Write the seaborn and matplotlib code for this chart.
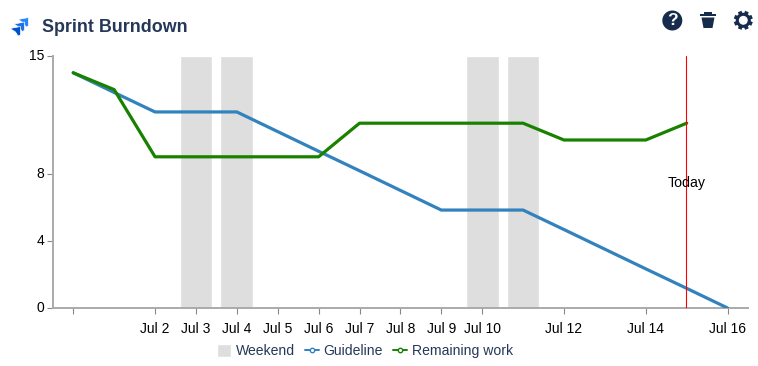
import matplotlib
matplotlib.use('Agg')
import matplotlib.pyplot as plt
from matplotlib.lines import Line2D
from matplotlib.patches import Circle, Patch, Polygon
import numpy as np
import pandas as pd
import seaborn as sns

# days since Jun 30
days = list(range(17))
guideline = [14, 12.83, 11.67, 11.67, 11.67, 10.5, 9.33, 8.17, 7, 5.83, 5.83, 5.83, 4.67, 3.5, 2.33, 1.17, 0]
remaining_days = list(range(16))
remaining = [14, 13, 9, 9, 9, 9, 9, 11, 11, 11, 11, 11, 10, 10, 10, 11]
weekend_days = [3, 4, 10, 11]
today = 15
tick_days = [0, 2, 3, 4, 5, 6, 7, 8, 9, 10, 12, 14, 16]
tick_labels = ['', 'Jul 2', 'Jul 3', 'Jul 4', 'Jul 5', 'Jul 6', 'Jul 7', 'Jul 8', 'Jul 9', 'Jul 10', 'Jul 12', 'Jul 14', 'Jul 16']
y_ticks = [0, 4, 8, 15]

NAVY = '#253858'
DARK = '#172B4D'
BLUE = '#3182bd'
GREEN = '#188200'
GREY = '#dedede'

sns.set_theme(style='white')
plt.rcParams['font.family'] = ['Liberation Sans', 'DejaVu Sans']

df = pd.concat([
    pd.DataFrame({'day': days, 'value': guideline, 'series': 'Guideline'}),
    pd.DataFrame({'day': remaining_days, 'value': remaining, 'series': 'Remaining work'}),
])

fig = plt.figure(figsize=(7.58, 3.66), dpi=100)
ax = fig.add_axes([53 / 758, 1 - 308 / 366, (748 - 53) / 758, (308 - 56) / 366])

ax.bar(weekend_days, [15] * len(weekend_days), width=0.8, color=GREY, zorder=1)
sns.lineplot(data=df, x='day', y='value', hue='series', palette={'Guideline': BLUE, 'Remaining work': GREEN},
             linewidth=2.3, ax=ax, legend=False, zorder=3)
ax.axvline(today - 0.01, color='#ff0000', linewidth=0.8, zorder=4)
ax.text(today, 7.43, 'Today', ha='center', va='center', fontsize=10.2, color='black', zorder=5)

ax.set_xlim(-0.495, 16.5)
ax.set_ylim(0, 15)
ax.set_xticks(tick_days)
ax.set_xticklabels(tick_labels)
ax.set_yticks(y_ticks)
ax.set_xlabel('')
ax.set_ylabel('')
ax.tick_params(axis='both', length=4.5, width=0.8, color='#888888', labelsize=10, labelcolor='black', pad=5.5,
               bottom=True, left=True)
ax.tick_params(axis='y', pad=2, labelsize=10)
for side in ['top', 'right']:
    ax.spines[side].set_visible(False)
for side in ['left', 'bottom']:
    ax.spines[side].set_color('#aaaaaa')
    ax.spines[side].set_linewidth(1.4)
for label in ax.get_yticklabels():
    label.set_verticalalignment('center')

handles = [
    Patch(facecolor=GREY, label='Weekend'),
    Line2D([], [], color=BLUE, marker='o', markersize=3.2, markerfacecolor='white', markeredgewidth=1, linewidth=1.4, label='Guideline'),
    Line2D([], [], color=GREEN, marker='o', markersize=3.2, markerfacecolor='white', markeredgewidth=1, linewidth=1.4, label='Remaining work'),
]
fig.legend(handles=handles, loc='center', bbox_to_anchor=(365 / 758, 1 - 351 / 366), ncol=3, frameon=False,
           fontsize=10.1, labelcolor=NAVY, handlelength=1, handleheight=1, handletextpad=0.32, columnspacing=0.72,
           borderpad=0, borderaxespad=0)

# header, drawn in pixel coordinates
top = fig.add_axes([0, 0, 1, 1], facecolor='none')
top.set_xlim(0, 758)
top.set_ylim(366, 0)
top.axis('off')
top.text(42, 27.5, 'Sprint Burndown', fontsize=12.9, fontweight='bold', color=NAVY, va='center', ha='left')

# logo chevrons, back to front
for dx, dy, c in [(0, 0, '#2684FF'), (-4, 4.5, '#1f6fe8'), (-8, 9, '#0052CC')]:
    top.add_patch(Polygon([(18 + dx, 19.5 + dy), (28.5 + dx, 17.5 + dy), (28.5 + dx, 26 + dy), (26 + dx, 27 + dy), (23.5 + dx, 23 + dy)],
                          closed=True, facecolor=c, edgecolor='white', linewidth=0.5))

# help icon
top.add_patch(Circle((672.3, 20.5), 10, facecolor=DARK, edgecolor='none'))
top.text(672.3, 20.8, '?', color='white', fontsize=12.5, fontweight='bold', ha='center', va='center')

# trash icon
top.add_patch(Polygon([(700, 13.5), (716, 13.5), (716, 16), (700, 16)], closed=True, facecolor=DARK, edgecolor='none'))
top.add_patch(Polygon([(704, 12), (712, 12), (712, 13.5), (704, 13.5)], closed=True, facecolor=DARK, edgecolor='none'))
top.add_patch(Polygon([(701.5, 17.5), (714.5, 17.5), (712.5, 28), (703.5, 28)], closed=True, facecolor=DARK, edgecolor='none'))

# gear icon
angles = np.linspace(0, 2 * np.pi, 8, endpoint=False) + np.pi / 8
for a in angles:
    top.plot([743.3 + 6 * np.cos(a), 743.3 + 9.5 * np.cos(a)], [20.3 + 6 * np.sin(a), 20.3 + 9.5 * np.sin(a)],
             color=DARK, linewidth=2.8, solid_capstyle='butt')
top.add_patch(Circle((743.3, 20.3), 6, facecolor='white', edgecolor=DARK, linewidth=2.2))

fig.savefig('out.png', dpi=100, facecolor='white')
